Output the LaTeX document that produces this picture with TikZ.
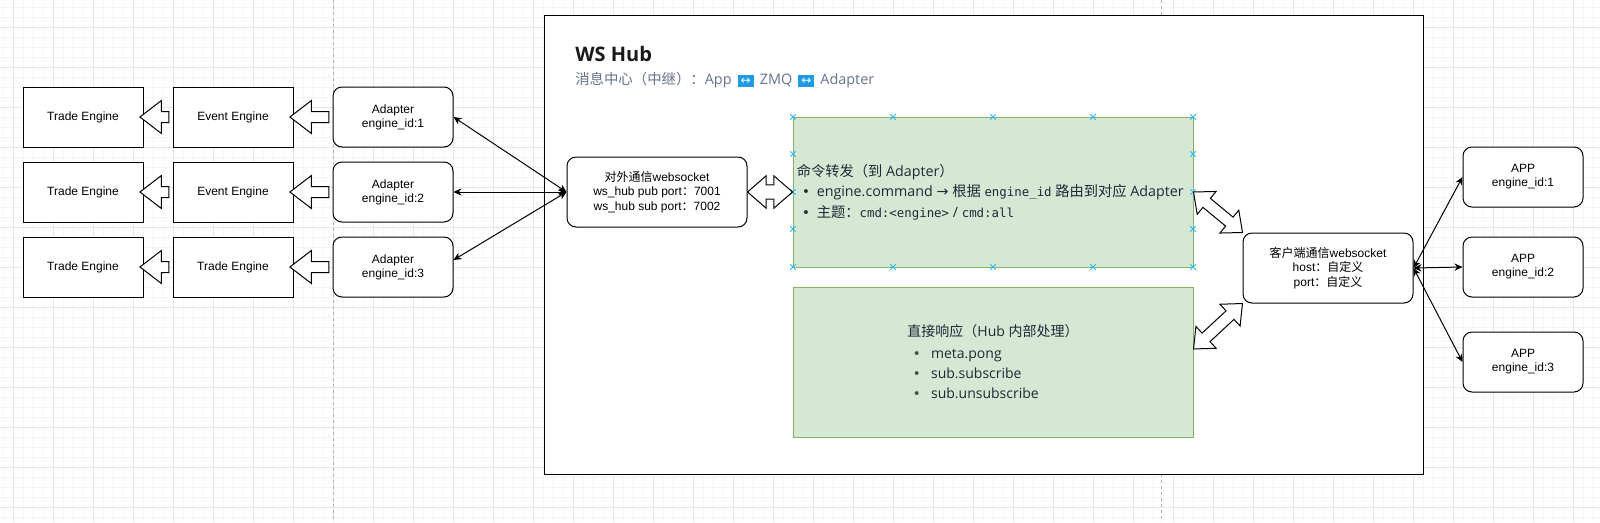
\documentclass[tikz,border=0pt]{standalone}
\usepackage{fontspec}
\setmainfont{Liberation Sans}
\newfontfamily\cjk{Noto Sans CJK SC}
\newfontfamily\uifont{Open Sans}
\newfontfamily\codefont{DejaVu Sans Mono}
\newfontfamily\symfont{DejaVu Sans}
\usetikzlibrary{shapes.arrows,shapes.misc,calc,arrows.meta}

\definecolor{gridmajor}{HTML}{E6E6E6}
\definecolor{gridminor}{HTML}{F5F5F5}
\definecolor{okfill}{HTML}{D5E8D4}
\definecolor{okline}{HTML}{82B366}
\definecolor{subtext}{HTML}{64748B}
\definecolor{bodytext}{HTML}{1F2937}
\definecolor{emoblue}{HTML}{1E9BE6}
\definecolor{handleblue}{HTML}{29B6F2}

\newcommand\zh[1]{{\cjk #1}}
\newcommand\code[1]{{\codefont\fontsize{9.3}{15}\selectfont #1}}
\newcommand\emo{{\setlength\fboxsep{2.2pt}\colorbox{emoblue}{\color{white}\symfont\fontsize{9}{9}\selectfont ↔}}}
\newcommand\bul{\hspace*{4pt}\makebox[11pt][l]{\symfont\fontsize{10}{10}\selectfont •}}
% hollow block arrow between two named points
\newcommand\fatarrow[3][single arrow]{%
  \path let \p1=($(#3)-(#2)$), \n1={atan2(\y1,\x1)}, \n2={veclen(\x1,\y1)} in
    node[fat, #1, rotate=\n1, minimum height=\n2] at ($(#2)!0.5!(#3)$) {};}

\tikzset{
  box/.style={draw, fill=white, line width=0.75pt, minimum width=90pt, minimum height=45pt,
    align=center, font=\fontsize{9}{10.5}\selectfont},
  rbox/.style={box, rounded corners=6.75pt},
  wsbox/.style={rbox, minimum width=135pt, minimum height=52.5pt, font=\fontsize{9}{11}\selectfont},
  greenbox/.style={draw=okline, fill=okfill, line width=0.75pt, minimum width=300pt, minimum height=112.5pt},
  link/.style={line width=0.75pt, {Stealth[length=6pt,width=5.5pt]}-{Stealth[length=6pt,width=5.5pt]}},
  fat/.style={draw, fill=white, line width=0.75pt, inner xsep=0pt, inner ysep=3.75pt, outer sep=0pt,
    minimum width=0pt, single arrow head extend=8.2pt, single arrow tip angle=75,
    double arrow head extend=6.75pt, double arrow tip angle=82},
  handle/.style={cross out, draw=handleblue, line width=0.6pt, minimum size=3.5pt, inner sep=0pt},
  pagebreak/.style={draw=black!30, line width=0.75pt, dash pattern=on 2.25pt off 2.25pt},
}

\begin{document}
\begin{tikzpicture}[x=0.75pt, y=-0.75pt]
  \useasboundingbox (0,0) rectangle (1600,522);
  % background grid
  \foreach \x in {3,13,...,1593} \draw[gridminor, line width=0.75pt] (\x,0) -- (\x,522);
  \foreach \y in {7,17,...,517} \draw[gridminor, line width=0.75pt] (0,\y) -- (1600,\y);
  \foreach \x in {13,53,...,1573} \draw[gridmajor, line width=0.75pt] (\x,0) -- (\x,522);
  \foreach \y in {27,67,...,507} \draw[gridmajor, line width=0.75pt] (0,\y) -- (1600,\y);
  \draw[pagebreak] (333,0) -- (333,522);
  \draw[pagebreak] (1161,0) -- (1161,522);

  % hub container
  \node[draw, fill=white, line width=0.75pt, minimum width=659.25pt, minimum height=344.25pt] (hub) at (983.5,244.5) {};
  \node[anchor=base west, inner sep=0pt, text=black!90, font=\uifont\bfseries\fontsize{15}{18}\selectfont] (hubtitle) at (575,61) {WS Hub};
  \node[anchor=west, inner sep=0pt, text=subtext, font=\uifont\fontsize{10.8}{13}\selectfont] (hubsub) at (575,80)
    {\zh{消息中心（中继）：}App\, \emo\, ZMQ\, \emo\, Adapter};

  % engines
  \node[box] (te1) at (83,117) {Trade Engine};
  \node[box] (te2) at (83,192) {Trade Engine};
  \node[box] (te3) at (83,267) {Trade Engine};
  \node[box] (evt1) at (233,117) {Event Engine};
  \node[box] (evt2) at (233,192) {Event Engine};
  \node[box] (evt3) at (233,267) {Trade Engine};
  \node[rbox] (adp1) at (393,117) {Adapter\\engine\_id:1};
  \node[rbox] (adp2) at (393,192) {Adapter\\engine\_id:2};
  \node[rbox] (adp3) at (393,267) {Adapter\\engine\_id:3};

  \fatarrow{adp1.west}{evt1.east}
  \fatarrow{adp2.west}{evt2.east}
  \fatarrow{adp3.west}{evt3.east}
  \fatarrow{evt1.west}{te1.east}
  \fatarrow{evt2.west}{te2.east}
  \fatarrow{evt3.west}{te3.east}

  % websockets
  \node[wsbox] (ws) at (657,192) {\zh{对外通信}websocket\\ws\_hub pub port\zh{：}7001\\ws\_hub sub port\zh{：}7002};
  \node[wsbox, minimum width=127.5pt] (cli) at (1328,268) {\zh{客户端通信}websocket\\host\zh{：自定义}\\port\zh{：自定义}};

  % hub sections
  \node[greenbox] (fwd) at (993,192) {};
  \foreach \x in {793,893,993,1093,1193} {
    \node[handle] at (\x,117) {};
    \node[handle] at (\x,267) {};
  }
  \foreach \y in {154,192,229} {
    \node[handle] at (793,\y) {};
    \node[handle] at (1193,\y) {};
  }
  \node[anchor=west, align=left, inner sep=0pt, text=bodytext, font=\uifont\fontsize{10.7}{15.5}\selectfont] (fwdtxt)
    at ([xshift=3pt]fwd.west) {\zh{命令转发（到} Adapter\zh{）}\\
    \bul engine.command {\symfont →} \zh{根据} \code{engine\_id} \zh{路由到对应} Adapter\\
    \bul\zh{主题：}\code{cmd:<engine>} / \code{cmd:all}};
  \node[greenbox, align=left, text=bodytext, font=\uifont\fontsize{10.5}{15}\selectfont] (direct) at (993,362)
    {\zh{直接响应（}Hub \zh{内部处理）}\\[1.5pt]
    {\color{black!70}\bul} meta.pong\\ {\color{black!70}\bul} sub.subscribe\\ {\color{black!70}\bul} sub.unsubscribe};

  \fatarrow[double arrow, inner ysep=5pt]{ws.east}{fwd.west}
  \fatarrow[double arrow, inner ysep=4pt]{fwd.east}{cli.north west}
  \fatarrow[double arrow, inner ysep=4pt]{[yshift=9.75pt]direct.east}{cli.south west}

  % apps
  \node[rbox] (app1) at (1523,177) {APP\\engine\_id:1};
  \node[rbox] (app2) at (1523,267) {APP\\engine\_id:2};
  \node[rbox] (app3) at (1523,362) {APP\\engine\_id:3};

  \begin{scope}[link]
    \draw (ws.west) to (adp1.east);
    \draw (ws.west) to (adp2.east);
    \draw (ws.west) to ([yshift=5.25pt]adp3.east);
    \draw (cli.east) to (app1.west);
    \draw (cli.east) to (app2.west);
    \draw (cli.east) to (app3.west);
  \end{scope}
\end{tikzpicture}
\end{document}
